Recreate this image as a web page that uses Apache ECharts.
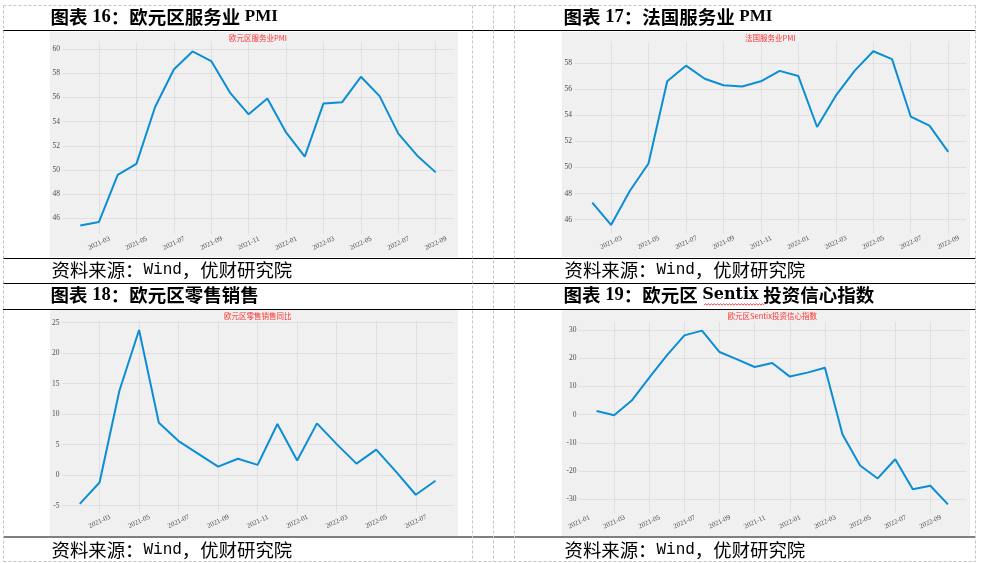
<!DOCTYPE html>
<html>
<head>
<meta charset="utf-8">
<script src="https://cdn.jsdelivr.net/npm/echarts@6/dist/echarts.min.js"></script>
<style>
html,body{margin:0;padding:0;background:#ffffff;}
#c{width:989px;height:563px;}
</style>
</head>
<body>
<div id="c"></div>
<script>
// ---------- data ----------
const monthLabels = ['2021-01','2021-02','2021-03','2021-04','2021-05','2021-06','2021-07','2021-08','2021-09','2021-10','2021-11','2021-12',
  '2022-01','2022-02','2022-03','2022-04','2022-05','2022-06','2022-07','2022-08','2022-09','2022-10','2022-11'];

const ezServicesMonths = ['2021-02','2021-03','2021-04','2021-05','2021-06','2021-07','2021-08','2021-09','2021-10','2021-11','2021-12',
  '2022-01','2022-02','2022-03','2022-04','2022-05','2022-06','2022-07','2022-08','2022-09'];
const ezServicesPMI = [45.4, 45.7, 49.6, 50.5, 55.2, 58.3, 59.8, 59.0, 56.4, 54.6, 55.9, 53.1, 51.1, 55.5, 55.6, 57.7, 56.1, 53.0, 51.2, 49.8];

const frServicesMonths = ['2021-02','2021-03','2021-04','2021-05','2021-06','2021-07','2021-08','2021-09','2021-10','2021-11','2021-12',
  '2022-01','2022-02','2022-03','2022-04','2022-05','2022-06','2022-07','2022-08','2022-09'];
const frServicesPMI = [47.3, 45.6, 48.2, 50.3, 56.6, 57.8, 56.8, 56.3, 56.2, 56.6, 57.4, 57.0, 53.1, 55.5, 57.4, 58.9, 58.3, 53.9, 53.2, 51.2];

const ezRetailMonths = ['2021-02','2021-03','2021-04','2021-05','2021-06','2021-07','2021-08','2021-09','2021-10','2021-11','2021-12',
  '2022-01','2022-02','2022-03','2022-04','2022-05','2022-06','2022-07','2022-08'];
const ezRetailYoY = [-4.7, -1.2, 13.8, 23.8, 8.6, 5.6, 3.5, 1.4, 2.7, 1.7, 8.4, 2.4, 8.5, 5.1, 1.9, 4.2, 0.6, -3.2, -0.9];

const sentixMonths = ['2021-02','2021-03','2021-04','2021-05','2021-06','2021-07','2021-08','2021-09','2021-10','2021-11','2021-12',
  '2022-01','2022-02','2022-03','2022-04','2022-05','2022-06','2022-07','2022-08','2022-09','2022-10'];
const sentixIndex = [1.3, -0.2, 5.0, 13.1, 21.0, 28.1, 29.8, 22.2, 19.6, 16.9, 18.3, 13.5, 14.9, 16.6, -7.0, -18.0, -22.6, -15.8, -26.4, -25.2, -31.8];

const panelTitles = ['欧元区服务业PMI', '法国服务业PMI', '欧元区零售销售同比', '欧元区Sentix投资信心指数'];
// figure headings, split into rich-text runs: [style, text]
const figureTitles = [
  [['c','图表'],['s',' '],['n','16'],['c','：欧元区服务业'],['s',' '],['p','PMI']],
  [['c','图表'],['s',' '],['n','17'],['c','：法国服务业'],['s',' '],['p','PMI']],
  [['c','图表'],['s',' '],['n','18'],['c','：欧元区零售销售']],
  [['c','图表'],['s',' '],['n','19'],['c','：欧元区'],['s',' '],['w','Sentix'],['s',' '],['c','投资信心指数']]
];
const sourceParts = ['资料来源：', 'Wind', '，优财研究院'];

// ---------- layout ----------
const LINE_COLOR = '#0b8ed3';
const GRID_COLOR = '#dcdcdc';
const PANEL_BG = '#f0f0f0';
const AXIS_TEXT = '#4d4d4d';
const SERIF = "'Liberation Serif', 'DejaVu Serif', serif";
const CJK = "'Noto Sans CJK SC', sans-serif";

const panels = [
  {months: ezServicesMonths, values: ezServicesPMI, rect: [50, 32, 408, 225],
   grid: {left: 62.5, top: 42.7, width: 391, height: 191.6}, ySplit: 8, xMinLabel: false},
  {months: frServicesMonths, values: frServicesPMI, rect: [562, 32, 408, 225],
   grid: {left: 574.5, top: 42.6, width: 391.5, height: 191}, ySplit: 7, xMinLabel: false},
  {months: ezRetailMonths, values: ezRetailYoY, rect: [50, 310, 408, 226],
   grid: {left: 62, top: 321.3, width: 391.3, height: 191.3}, ySplit: 6, xMinLabel: false},
  {months: sentixMonths, values: sentixIndex, rect: [562, 310, 408, 226],
   grid: {left: 579, top: 321.9, width: 386.5, height: 191.2}, ySplit: 7, xMinLabel: true}
];

function expand(lo, hi) { const d = (hi - lo) * 0.05; return [lo - d, hi + d]; }

const grids = [], xAxes = [], yAxes = [], series = [], elements = [];

panels.forEach((p, i) => {
  const xs = p.months.map(m => monthLabels.indexOf(m));
  const [xmin, xmax] = expand(Math.min(...xs), Math.max(...xs));
  const [ymin, ymax] = expand(Math.min(...p.values), Math.max(...p.values));
  grids.push(Object.assign({containLabel: false}, p.grid));
  xAxes.push({
    type: 'value', gridIndex: i, min: xmin, max: xmax, splitNumber: 10,
    axisLine: {show: false}, axisTick: {show: false},
    splitLine: {show: true, showMinLine: false, showMaxLine: false, lineStyle: {color: GRID_COLOR, width: 0.8}},
    axisLabel: {
      showMinLabel: p.xMinLabel, showMaxLabel: false,
      rotate: 25, align: 'center', verticalAlign: 'middle', margin: 9,
      fontFamily: SERIF, fontSize: 7, color: AXIS_TEXT,
      formatter: v => (Number.isInteger(v) ? (monthLabels[v] || '') : '')
    }
  });
  yAxes.push({
    type: 'value', gridIndex: i, min: ymin, max: ymax, splitNumber: p.ySplit,
    axisLine: {show: false}, axisTick: {show: false},
    splitLine: {show: true, showMinLine: false, showMaxLine: false, lineStyle: {color: GRID_COLOR, width: 0.8}},
    axisLabel: {showMinLabel: false, showMaxLabel: false, margin: 2.5,
      fontFamily: SERIF, fontSize: 7.5, color: AXIS_TEXT}
  });
  series.push({
    type: 'line', xAxisIndex: i, yAxisIndex: i,
    data: xs.map((x, k) => [x, p.values[k]]),
    symbol: 'none', lineStyle: {color: LINE_COLOR, width: 2}, silent: true
  });
  elements.push({type: 'rect', z: -10, shape: {x: p.rect[0], y: p.rect[1], width: p.rect[2], height: p.rect[3]},
    style: {fill: PANEL_BG}});
  elements.push({type: 'text', x: p.grid.left + p.grid.width / 2, y: p.rect[1] + 6.5,
    style: {text: panelTitles[i], fill: '#ff3030', fontSize: 7.5, fontFamily: CJK,
      align: 'center', verticalAlign: 'middle'}});
});

const titleRich = {
  c: {fontSize: 18.5, fontFamily: CJK, fontWeight: 'bold', fill: '#000'},
  s: {fontSize: 18.5, fontFamily: SERIF, fill: '#000'},
  n: {fontSize: 18.5, fontFamily: SERIF, fontWeight: 'bold', fill: '#000'},
  p: {fontSize: 17, fontFamily: SERIF, fontWeight: 'bold', fill: '#000'},
  w: {fontSize: 16, fontFamily: "'DejaVu Serif', serif", fontWeight: 'bold', fill: '#000'}
};
const colX = [50.5, 563.5];
const titleY = [17, 295];
const sourceY = [270, 550];
for (let i = 0; i < 4; i++) {
  const cx = colX[i % 2], row = Math.floor(i / 2);
  elements.push({type: 'text', x: cx, y: titleY[row],
    style: {text: figureTitles[i].map(r => '{' + r[0] + '|' + r[1] + '}').join(''),
      align: 'left', verticalAlign: 'middle', rich: titleRich}});
  elements.push({type: 'text', x: cx + 1, y: sourceY[row],
    style: {
      text: '{a|' + sourceParts[0] + '}{b|' + sourceParts[1] + '}{a|' + sourceParts[2] + '}',
      align: 'left', verticalAlign: 'middle',
      rich: {
        a: {fontSize: 18.4, fontFamily: CJK, fill: '#000', fontWeight: 'normal'},
        b: {fontSize: 16, fontFamily: "'Liberation Mono', monospace", fill: '#000'}
      }
    }});
}

[30.5, 258.5, 283.5, 309.5, 537].forEach(y => {
  elements.push({type: 'line', shape: {x1: 3, y1: y, x2: 975.5, y2: y}, style: {stroke: '#000', lineWidth: 1.2}});
});
const dash = {stroke: '#c4c4c4', lineWidth: 1, lineDash: [3, 2]};
elements.push({type: 'line', shape: {x1: 3.5, y1: 5.5, x2: 975.5, y2: 5.5}, style: dash});
elements.push({type: 'line', shape: {x1: 3.5, y1: 561.5, x2: 975.5, y2: 561.5}, style: dash});
[3.5, 472.5, 493.5, 514.5, 975.5].forEach(x => {
  elements.push({type: 'line', shape: {x1: x, y1: 5.5, x2: x, y2: 561.5}, style: dash});
});
// spell-check wavy underline under "Sentix"
const wavy = [];
for (let x = 704, k = 0; x <= 765; x += 1.5, k++) wavy.push([x, k % 2 ? 303.6 : 305.2]);
elements.push({type: 'polyline', shape: {points: wavy}, style: {stroke: '#e02020', lineWidth: 0.8, fill: null}});

const chart = echarts.init(document.getElementById('c'), null, {renderer: 'canvas', width: 989, height: 563});
chart.setOption({
  animation: false,
  backgroundColor: '#ffffff',
  grid: grids,
  xAxis: xAxes,
  yAxis: yAxes,
  series: series,
  graphic: {elements: elements}
});
</script>
</body>
</html>
